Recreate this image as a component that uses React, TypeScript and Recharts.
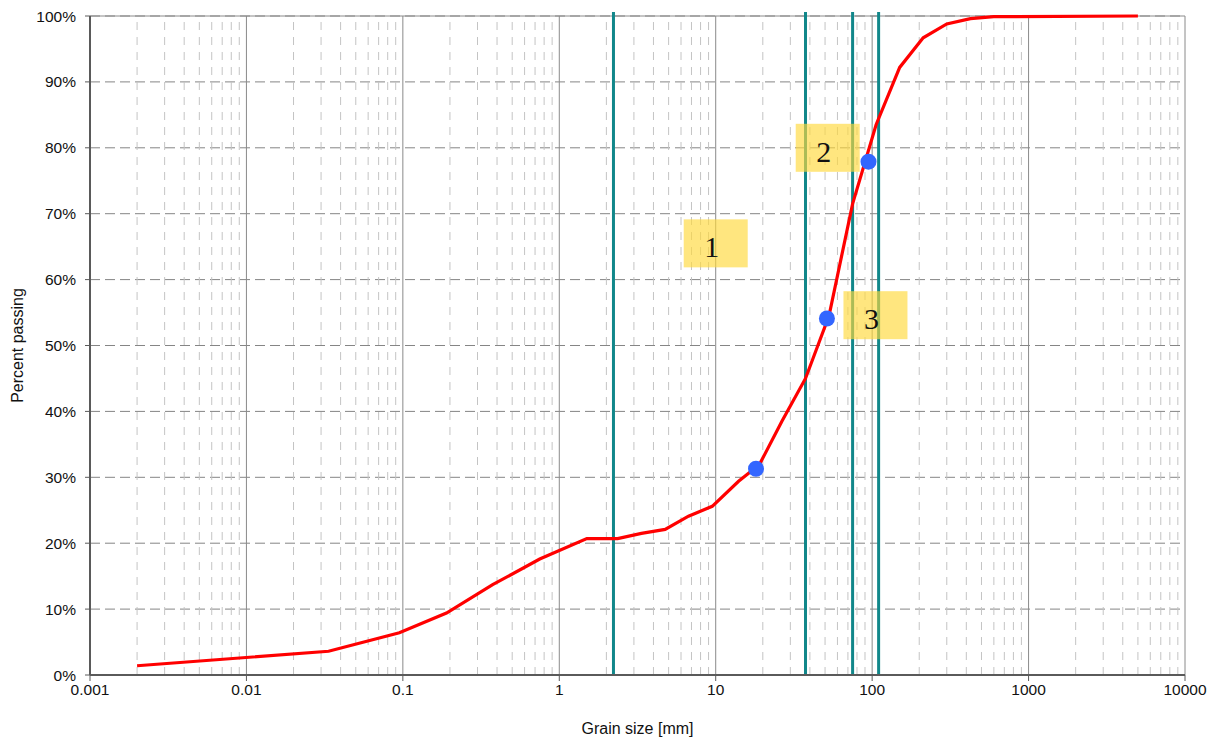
import React from "react";
import {
  ComposedChart,
  Line,
  XAxis,
  YAxis,
  CartesianGrid,
  ReferenceLine,
  ReferenceDot,
} from "recharts";

// grain size [mm] and percent passing
const SIZES = [
  0.002, 0.0335, 0.095, 0.19, 0.375, 0.75, 1.5, 2.36, 3.35, 4.75, 6.7, 9.5, 14,
  19, 26.5, 37.5, 53, 75, 106, 150, 212, 300, 425, 600, 5000,
];
const PASSING = [
  1.4, 3.6, 6.4, 9.4, 13.7, 17.6, 20.7, 20.7, 21.5, 22.1, 24.1, 25.6, 29.4,
  31.9, 38.5, 45.0, 54.5, 71.5, 83.5, 92.2, 96.7, 98.8, 99.6, 99.9, 100,
];

// characteristic diameters (blue markers)
const MARKER_SIZES = [18.1, 51.4, 94.8];
const MARKER_PASSING = [31.3, 54.1, 77.9];

// vertical boundary lines (teal)
const BOUNDARIES = [2.22, 37.5, 75, 110];

// numbered zone boxes
const ZONE_LABELS = ["1", "2", "3"];
const ZONE_SIZES = [10, 52, 105];
const ZONE_PASSING = [65.5, 80.0, 54.6];

const X_TICKS = [0.001, 0.01, 0.1, 1, 10, 100, 1000, 10000];
const Y_TICKS = [0, 10, 20, 30, 40, 50, 60, 70, 80, 90, 100];
const MINOR_STEPS = [2, 3, 4, 5, 6, 7, 8, 9];

const data = SIZES.map((size, i) => ({ size, passing: PASSING[i] }));
const minorLines = X_TICKS.slice(0, -1).flatMap((d) =>
  MINOR_STEPS.map((m) => +(d * m).toPrecision(3))
);

const FONT = "'Liberation Sans', Arial, sans-serif";
const AXIS_COLOR = "#5a5a5a";
const TEAL = "#11878a";

const ZoneBox = (props: any) => {
  const { cx, cy, label } = props;
  if (cx == null || cy == null) return null;
  return (
    <g>
      <rect x={cx - 32} y={cy - 24} width={64} height={48} fill="#ffd83a" fillOpacity={0.65} />
      <text
        x={cx - 4}
        y={cy + 14}
        textAnchor="middle"
        fontFamily="'Liberation Serif', 'Times New Roman', serif"
        fontSize={30}
        fill="#111"
      >
        {label}
      </text>
    </g>
  );
};

export default function App() {
  return (
    <div style={{ position: "absolute", left: 0, top: 0, background: "#fff" }}>
      <ComposedChart
        width={1213}
        height={738}
        data={data}
        margin={{ top: 16, right: 28, left: 0, bottom: 0 }}
      >
        <CartesianGrid
          horizontal
          vertical={false}
          stroke="#858585"
          strokeDasharray="10 5"
        />
        {minorLines.map((v) => (
          <ReferenceLine
            key={"m" + v}
            x={v}
            stroke="#c4c4c4"
            strokeDasharray="8 7"
            zIndex={-90}
          />
        ))}
        {X_TICKS.map((v) => (
          <ReferenceLine key={"d" + v} x={v} stroke="#8a8a8a" zIndex={-80} />
        ))}
        <ReferenceLine y={100} stroke="#8a8a8a" zIndex={-80} />
        <XAxis
          dataKey="size"
          type="number"
          scale="log"
          domain={[0.001, 10000]}
          ticks={X_TICKS}
          interval={0}
          allowDataOverflow
          height={63}
          tickFormatter={(v: number) => String(v)}
          tick={{ fontSize: 15.5, fill: "#111", fontFamily: FONT }}
          tickSize={6}
          tickMargin={3}
          axisLine={{ stroke: AXIS_COLOR, strokeWidth: 2 }}
          tickLine={{ stroke: AXIS_COLOR }}
          label={{
            value: "Grain size [mm]",
            position: "insideBottom",
            offset: 4,
            style: { fontSize: 16, fill: "#111", fontFamily: FONT },
          }}
        />
        <YAxis
          type="number"
          domain={[0, 100]}
          ticks={Y_TICKS}
          interval={0}
          width={90}
          tickFormatter={(v: number) => `${v}%`}
          tick={{ fontSize: 15.5, fill: "#111", fontFamily: FONT }}
          tickSize={5}
          tickMargin={9}
          axisLine={{ stroke: AXIS_COLOR, strokeWidth: 2 }}
          tickLine={{ stroke: AXIS_COLOR }}
          label={{
            value: "Percent passing",
            angle: -90,
            position: "insideLeft",
            offset: 17,
            style: { textAnchor: "middle", fontSize: 16, fill: "#111", fontFamily: FONT },
          }}
        />
        {BOUNDARIES.map((v) => (
          <ReferenceLine
            key={"b" + v}
            ifOverflow="visible"
            segment={[
              { x: v, y: 0 },
              { x: v, y: 100.6 },
            ]}
            stroke={TEAL}
            strokeWidth={3}
          />
        ))}
        <Line
          dataKey="passing"
          type="linear"
          stroke="#ff0000"
          strokeWidth={3.2}
          dot={false}
          activeDot={false}
          isAnimationActive={false}
        />
        {MARKER_SIZES.map((x, i) => (
          <ReferenceDot
            key={"p" + x}
            x={x}
            y={MARKER_PASSING[i]}
            r={8}
            fill="#3366ff"
            stroke="none"
          />
        ))}
        {ZONE_LABELS.map((label, i) => (
          <ReferenceDot
            key={"z" + label}
            x={ZONE_SIZES[i]}
            y={ZONE_PASSING[i]}
            r={1}
            shape={(p: any) => <ZoneBox {...p} label={label} />}
          />
        ))}
      </ComposedChart>
    </div>
  );
}
